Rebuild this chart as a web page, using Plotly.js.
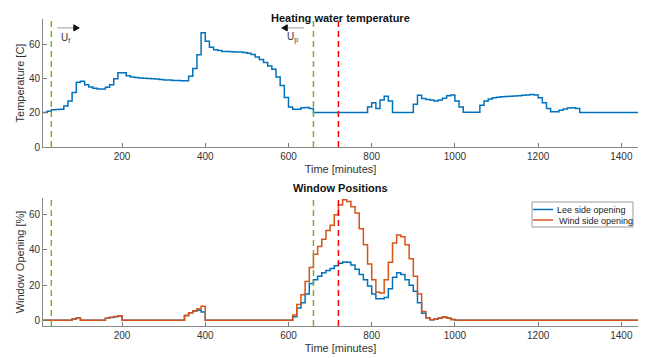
<!DOCTYPE html>
<html><head><meta charset="utf-8">
<script src="https://cdn.plot.ly/plotly-3.0.1.min.js"></script>
<style>html,body{margin:0;padding:0;background:#fff}#chart{width:654px;height:358px}</style>
</head><body><div id="chart"></div>
<script>
// time grid (minutes)
const time = [];
for (let t = 10; t <= 1440; t += 10) time.push(t);

// Heating water temperature [C], one value per 10 min from 10 to 1440
const temperature = [
 20.2,21,21.8,22,22.2,24,27,32,38,38.5,            // 10-100
 36.5,35.2,34.5,34,34,35,36.5,40,43.5,43.5,        // 110-200
 41.8,41,40.8,40.5,40.3,40.2,40,39.8,39.5,39.3,    // 210-300
 39.2,39,38.9,38.8,38.8,41.5,46,54,67,62,          // 310-400
 58.5,57,56.5,56,55.9,55.8,55.7,55.6,55.4,55,      // 410-500
 54.2,52.8,51.2,49.5,47.5,45.5,41,36,29,23.5,      // 510-600
 22.2,22.2,23,23.2,22.5,20.2,20.2,20.2,20.2,20.2,  // 610-700
 20.2,20.2,20.2,20.2,20.2,20.2,20.2,20.2,23.5,26,  // 710-800
 22.5,27.5,29.8,27,20.2,20.2,20.2,20.2,20.2,25,    // 810-900
 30.4,28.4,27.8,27.5,26.9,27.5,28.6,30,30.5,27,    // 910-1000
 23.5,20.4,20.4,20.4,20.4,24.5,27,28.2,28.9,29.2,  // 1010-1100
 29.4,29.6,29.8,29.9,30.1,30.3,30.5,30.8,30.5,28.8,// 1110-1200
 26,22.5,20.6,20.6,21.5,22.3,22.8,23,22.5,20.2,    // 1210-1300
 20.2,20.2,20.2,20.2,20.2,20.2,20.2,20.2,20.2,20.2,// 1310-1400
 20.2,20.2,20.2,20.2                               // 1410-1440
];

// Window opening [%]
const leeSide = [
 0,0,0,0,0,0,0,0.8,1.3,0,           // 10-100
 0,0,0,0,0,1.2,1.6,2.1,2.5,0,       // 110-200
 0,0,0,0,0,0,0,0,0,0,               // 210-300
 0,0,0,0,2.8,4.3,5.3,5.8,4.8,0,     // 310-400
 0,0,0,0,0,0,0,0,0,0,               // 410-500
 0,0,0,0,0,0,0,0,0,0,               // 510-600
 2,7,10,15,21,23,25,27,28.3,29.5,   // 610-700
 31,32.5,33.2,33,31.5,29,26,23,19.5,15, // 710-800
 12.3,12.3,13,18,24.5,27,26,23,20,16.5, // 810-900
 10,4,1.5,0.4,0.8,1.3,1.9,1.3,0.5,0,    // 910-1000
 0,0,0,0,0,0,0,0,0,0,0,0,0,0,0,0,0,0,0,0,
 0,0,0,0,0,0,0,0,0,0,0,0,0,0,0,0,0,0,0,0,
 0,0,0,0
];
const windSide = [
 0,0,0,0,0,0,0,0.8,1.3,0,
 0,0,0,0,0,1.2,1.7,2.2,2.6,0,
 0,0,0,0,0,0,0,0,0,0,
 0,0,0,0,2.8,4.3,5.5,6.6,8,0,
 0,0,0,0,0,0,0,0,0,0,
 0,0,0,0,0,0,0,0,0,0,
 3,9,14.5,22,30,37.5,42,46,51,54,
 60,65.5,68.5,67.5,64.5,61,52,43,32,23,
 16,15.5,23,33,44,48.5,47.5,43,35,25,
 15,5,1.5,0.4,0.8,1.3,1.9,1.3,0.5,0,
 0,0,0,0,0,0,0,0,0,0,0,0,0,0,0,0,0,0,0,0,
 0,0,0,0,0,0,0,0,0,0,0,0,0,0,0,0,0,0,0,0,
 0,0,0,0
];

const seriesNames = ['Lee side opening', 'Wind side opening'];
const greenLines = [30, 660];
const redLines = [720];
const xTicks = [200, 400, 600, 800, 1000, 1200, 1400];
const yTicks = [0, 20, 40, 60];

const FONT = 'Liberation Sans, Arial, sans-serif';
const BLUE = '#0072BD', ORANGE = '#D95319';
const TXT = '#333';

const traces = [
  {x: time, y: temperature, type: 'scatter', mode: 'lines', line: {shape: 'hv', color: BLUE, width: 1.5}, xaxis: 'x', yaxis: 'y', showlegend: false},
  {x: time, y: leeSide, type: 'scatter', mode: 'lines', name: seriesNames[0], line: {shape: 'hv', color: BLUE, width: 1.5}, xaxis: 'x2', yaxis: 'y2', showlegend: false},
  {x: time, y: windSide, type: 'scatter', mode: 'lines', name: seriesNames[1], line: {shape: 'hv', color: ORANGE, width: 1.5}, xaxis: 'x2', yaxis: 'y2', showlegend: false}
];

const DASH = '6px,4px';
const shapes = [];
[['x','y'],['x2','y2']].forEach(([xr, yr]) => {
  greenLines.forEach(v => shapes.push({type: 'line', xref: xr, yref: yr + ' domain', x0: v, x1: v, y0: 0, y1: 1, line: {color: '#77AC30', width: 1.5, dash: DASH}}));
  redLines.forEach(v => shapes.push({type: 'line', xref: xr, yref: yr + ' domain', x0: v, x1: v, y0: 0, y1: 1, line: {color: '#FF0000', width: 1.5, dash: DASH}}));
});

// arrows U_f (pointing right) and U_p (pointing left), drawn as shapes in the top axes
shapes.push({type: 'line', xref: 'x', yref: 'y', x0: 44, x1: 90, y0: 69.8, y1: 69.8, line: {color: '#999', width: 1}});
shapes.push({type: 'path', xref: 'x', yref: 'y', path: 'M 84 71.6 L 97 69.8 L 84 68 Z', fillcolor: '#111', line: {color: '#111', width: 1}});
shapes.push({type: 'line', xref: 'x', yref: 'y', x0: 591, x1: 637, y0: 69.8, y1: 69.8, line: {color: '#999', width: 1}});
shapes.push({type: 'path', xref: 'x', yref: 'y', path: 'M 597 71.6 L 584 69.8 L 597 68 Z', fillcolor: '#111', line: {color: '#111', width: 1}});

// custom compact legend (paper coords: x=(px-43)/595, y=(326-py)/307)
const px2x = p => (p - 43) / 595, py2y = p => (326 - p) / 307;
shapes.push({type: 'rect', xref: 'paper', yref: 'paper', x0: px2x(532), x1: px2x(633), y0: py2y(227), y1: py2y(202), line: {color: '#999', width: 1}, fillcolor: '#fff', layer: 'above'});
shapes.push({type: 'line', xref: 'paper', yref: 'paper', x0: px2x(533), x1: px2x(553), y0: py2y(209.5), y1: py2y(209.5), line: {color: BLUE, width: 1.5}, layer: 'above'});
shapes.push({type: 'line', xref: 'paper', yref: 'paper', x0: px2x(533), x1: px2x(553), y0: py2y(220), y1: py2y(220), line: {color: ORANGE, width: 1.5}, layer: 'above'});

const axisX = {
  range: [10, 1440], tickvals: xTicks, ticks: 'inside', ticklen: 4, tickcolor: '#777',
  showline: true, linecolor: '#888', linewidth: 1, showgrid: false, zeroline: false, automargin: false,
  tickfont: {family: FONT, size: 10, color: TXT},
  title: {text: 'Time [minutes]', font: {family: FONT, size: 11, color: TXT}, standoff: 4}
};
const axisY = {
  ticks: 'inside', ticklen: 4, tickcolor: '#777', showline: true, linecolor: '#888', linewidth: 1,
  showgrid: false, zeroline: false, tickvals: yTicks, automargin: false,
  tickfont: {family: FONT, size: 10, color: TXT}
};

const layout = {
  width: 654, height: 358,
  margin: {l: 43, r: 16, t: 19, b: 32},
  paper_bgcolor: '#fff', plot_bgcolor: '#fff',
  font: {family: FONT, color: TXT},
  xaxis: Object.assign({}, axisX, {anchor: 'y', domain: [0, 1]}),
  yaxis: Object.assign({}, axisY, {range: [0, 75], domain: [0.583, 1], anchor: 'x',
    title: {text: 'Temperature [C]', font: {family: FONT, size: 11, color: TXT}, standoff: 2}}),
  xaxis2: Object.assign({}, axisX, {anchor: 'y2', domain: [0, 1]}),
  yaxis2: Object.assign({}, axisY, {range: [-3.2, 69.5], domain: [0, 0.417], anchor: 'x2',
    title: {text: 'Window Opening [%]', font: {family: FONT, size: 11, color: TXT}, standoff: 2}}),
  shapes: shapes,
  showlegend: false,
  annotations: [
    {text: '<b>Heating water temperature</b>', xref: 'paper', yref: 'paper', x: 0.5, y: 1, yshift: 9, showarrow: false, font: {family: FONT, size: 11, color: '#111'}},
    {text: '<b>Window Positions</b>', xref: 'paper', yref: 'paper', x: 0.5, y: 0.417, yshift: 10, showarrow: false, font: {family: FONT, size: 11, color: '#111'}},
    {x: 63, y: 64, xref: 'x', yref: 'y', text: 'U<sub>f</sub>', showarrow: false, font: {family: FONT, size: 10, color: TXT}},
    {x: 610, y: 64, xref: 'x', yref: 'y', text: 'U<sub>p</sub>', showarrow: false, font: {family: FONT, size: 10, color: TXT}},
    {text: seriesNames[0], xref: 'paper', yref: 'paper', x: px2x(555), y: py2y(209.5), xanchor: 'left', yanchor: 'middle', showarrow: false, font: {family: FONT, size: 9, color: '#222'}},
    {text: seriesNames[1], xref: 'paper', yref: 'paper', x: px2x(557), y: py2y(220.5), xanchor: 'left', yanchor: 'middle', showarrow: false, font: {family: FONT, size: 9, color: '#222'}}
  ]
};

Plotly.newPlot('chart', traces, layout, {displayModeBar: false, staticPlot: true});
</script>
</body></html>
